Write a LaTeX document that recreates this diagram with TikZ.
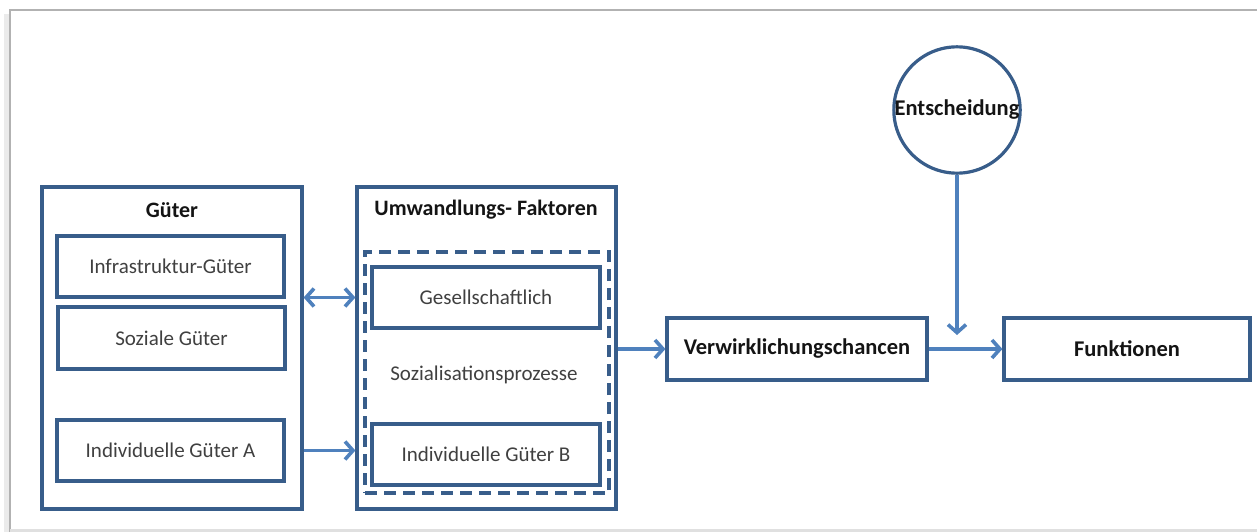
\documentclass[tikz,border=0pt]{standalone}
\usepackage{fontspec}
\setmainfont{Carlito}
\usetikzlibrary{arrows.meta}
\definecolor{boxblue}{RGB}{56,93,138}
\definecolor{arrowblue}{RGB}{79,129,189}
\definecolor{labelgray}{RGB}{64,64,64}
\definecolor{titleblack}{RGB}{20,20,20}
\begin{document}
\begin{tikzpicture}[x=1pt,y=-1pt,
  box/.style={draw=boxblue,line width=3.2pt,minimum width=#1,minimum height=61pt,inner sep=0pt,
    font=\fontsize{21}{24}\selectfont,text=labelgray},
  frame/.style={draw=boxblue,line width=3.2pt,inner sep=0pt},
  titlebox/.style={draw=boxblue,line width=3.2pt,minimum width=#1,minimum height=62pt,inner sep=0pt,
    font=\bfseries\fontsize{22.5}{26}\selectfont,text=titleblack},
  title/.style={font=\bfseries\fontsize{22}{26}\selectfont,text=titleblack,inner sep=0pt},
  conn/.style={draw=arrowblue,line width=3.6pt,-{Straight Barb[length=8pt,width=18pt,line width=3.6pt]}},
  dconn/.style={draw=arrowblue,line width=3.6pt,{Straight Barb[length=8pt,width=18pt,line width=3.6pt]}-{Straight Barb[length=8pt,width=18pt,line width=3.6pt]}}]
\useasboundingbox (0,0) rectangle (1257,532);
% page edge
\fill[black!8] (4,14) rectangle (10,532);
\draw[black!30,line width=1.2pt] (10,536) -- (10,10) -- (1262,10);
\draw[black!12,line width=3pt] (10,530) -- (1262,530);

% goods column
\node[frame,minimum width=260pt,minimum height=322pt] (gueter) at (172,348) {};
\node[title] (gtitle) at (172,210) {Güter};
\node[box=227pt] (infra) at (170.5,266.5) {Infrastruktur-Güter};
\node[box=227pt,minimum height=62pt] (sozial) at (171.5,338) {Soziale Güter};
\node[box=227pt] (indA) at (170.5,450.5) {Individuelle Güter A};

% conversion factors column
\node[frame,minimum width=259pt,minimum height=322pt] (umw) at (486.5,348) {};
\node[title] (utitle) at (486,210) {Umwandlungs- Faktoren};
\node[draw=boxblue,line width=3.2pt,dash pattern=on 12pt off 7pt,minimum width=244pt,minimum height=241pt,inner sep=0pt] (sozproz) at (487,372.5) {};
\node[box=228pt] (gesell) at (486,297.5) {Gesellschaftlich};
\node[font=\fontsize{21}{24}\selectfont,text=labelgray,inner sep=0pt] (sozlabel) at (484,375) {Sozialisationsprozesse};
\node[box=228pt] (indB) at (486,454.5) {Individuelle Güter B};

% outcomes
\node[titlebox=260pt] (verw) at (797,349) {Verwirklichungschancen};
\node[titlebox=246pt] (funk) at (1127,349) {Funktionen};
\node[draw=boxblue,line width=3.2pt,circle,minimum size=126pt,inner sep=0pt,
  font=\bfseries\fontsize{22.5}{26}\selectfont,text=titleblack] (ent) at (957,110) {Entscheidung};
\coordinate (entend) at (957,335);

% connectors
\draw[dconn] (gueter.east |- gesell) -- (umw.west |- gesell);
\draw[conn] (gueter.east |- indA) -- (umw.west |- indA);
\draw[conn] (umw.east |- verw) -- (verw.west);
\draw[conn] (verw.east) -- (funk.west);
\draw[conn] (ent.south) -- (entend);
\end{tikzpicture}
\end{document}
